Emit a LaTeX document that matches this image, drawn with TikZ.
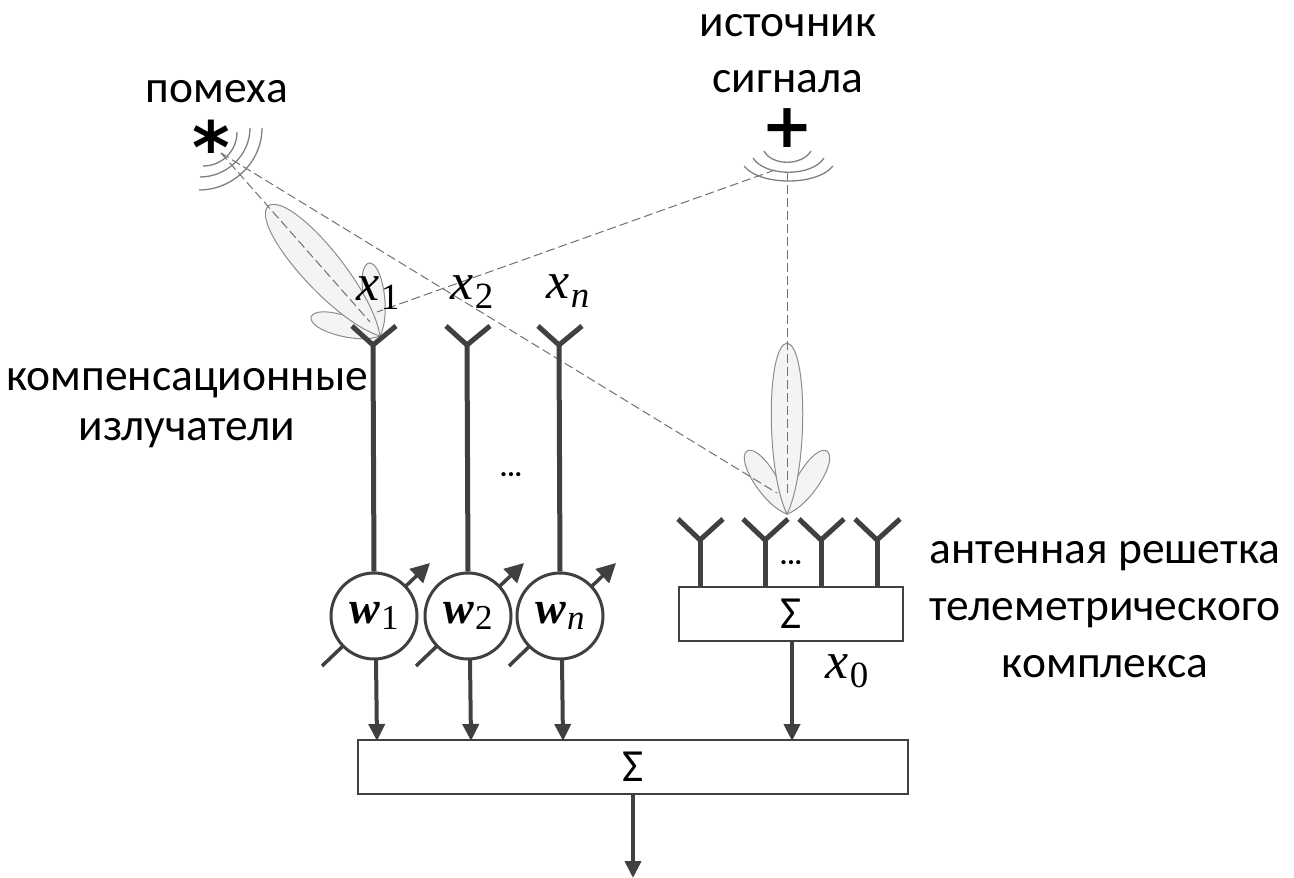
\documentclass[tikz,border=0pt]{standalone}
\usepackage{fontspec}
\setmainfont{Carlito}
\newfontfamily\lserif{Liberation Serif}
\newfontfamily\djv{DejaVu Sans}
\usetikzlibrary{arrows.meta,calc}
\definecolor{ln}{HTML}{404040}
\definecolor{lobeline}{HTML}{8C8C8C}
\definecolor{lobefill}{HTML}{F4F4F4}
\newcommand{\lobeshape}[3]{%
  \draw[lobe] (#1) .. controls ($(#1)!.25!(#2)!#3pt!90:(#2)$) and ($(#1)!.98!(#2)!#3pt!90:(#2)$) .. (#2)
    .. controls ($(#1)!.98!(#2)!#3pt!-90:(#2)$) and ($(#1)!.25!(#2)!#3pt!-90:(#2)$) .. (#1) -- cycle;}
\newcommand{\mx}[2]{{\lserif\fontsize{52}{52}\selectfont\itshape #1\kern1pt\raisebox{-9pt}{\fontsize{37}{37}\selectfont #2}}}
\newcommand{\wx}[2]{{\lserif\fontsize{46}{46}\selectfont\bfseries\itshape w\kern1pt\raisebox{-6pt}{\fontsize{35}{35}\selectfont\mdseries #2}}}
\tikzset{
  x=1pt,y=-1pt,
  lobe/.style={draw=lobeline,fill=lobefill,line width=1pt},
  ray/.style={draw=lobeline!80!black,line width=1pt,dash pattern=on 9pt off 4pt},
  wave/.style={draw=gray,line width=1.3pt},
  wire/.style={draw=ln,line width=5pt},
  thin wire/.style={draw=ln,line width=3.5pt},
  flow/.style={draw=ln,line width=4pt,-{Triangle[length=17pt,width=16pt]}},
  sumbox/.style={draw=ln,line width=2.6pt,fill=white,inner sep=0pt,font=\fontsize{46}{46}\selectfont},
  weight/.style={circle,draw=ln,line width=3pt,fill=white,minimum size=86pt,inner sep=0pt},
  label/.style={inner sep=0pt,font=\fontsize{45.5}{50}\selectfont,align=center},
  mlabel/.style={inner sep=0pt},
}
\begin{document}
\begin{tikzpicture}
\useasboundingbox (0,0) rectangle (1294,878);
% lobes
\coordinate (la) at (380,336);
\coordinate (lt1) at (268,206);
\coordinate (lt2) at (369,263);
\coordinate (lt3) at (311,317);
\lobeshape{la}{lt3}{14}
\lobeshape{la}{lt2}{14}
\lobeshape{la}{lt1}{27}
\coordinate (ra) at (787,514);
\coordinate (rt1) at (747,451);
\coordinate (rt2) at (827,451);
\coordinate (rt3) at (787,343);
\lobeshape{ra}{rt1}{15}
\lobeshape{ra}{rt2}{15}
\lobeshape{ra}{rt3}{21}
% sources
\node[inner sep=0pt,font=\djv\bfseries\fontsize{72}{72}\selectfont] (star) at (211,147) {*};
\node[inner sep=0pt,font=\djv\bfseries\fontsize{62}{62}\selectfont] (plus) at (787,128) {+};
\coordinate (se) at (221,153);
\coordinate (so) at (775,170);
\coordinate (sd) at (787,172);
\coordinate (t1) at (370,322);
\coordinate (t2) at (777,493);
\coordinate (t3) at (377,312);
\coordinate (t4) at (787,495);
\draw[ray] (se) -- (t1);
\draw[ray] (se) -- (t2);
\draw[ray] (so) -- (t3);
\draw[ray] (sd) -- (t4);
% waves
\draw[wave] (237,132) .. controls (237,151) and (222,166) .. (203,166);
\draw[wave] (250,128) .. controls (250,155) and (227,177) .. (200,177);
\draw[wave] (262,128) .. controls (262,162) and (233,190) .. (199,190);
\draw[wave] (764,151) .. controls (772,166) and (802,166) .. (811,151);
\draw[wave] (753,158) .. controls (765,177) and (812,177) .. (824,158);
\draw[wave] (744,166) .. controls (760,186) and (817,186) .. (833,166);
% weights: control arrows
\coordinate (a1s) at (322,666); \coordinate (a1e) at (430,563);
\coordinate (a2s) at (416,666); \coordinate (a2e) at (524,563);
\coordinate (a3s) at (509,666); \coordinate (a3e) at (616,563);
\foreach \p in {1,2,3}{\draw[thin wire,-{Triangle[length=19pt,width=19pt]}] (a\p s) -- (a\p e);}
% weights
\node[weight] (w1) at (374,616) {\wx{w}{\upshape 1}};
\node[weight] (w2) at (468,616) {\wx{w}{\upshape 2}};
\node[weight] (wn) at (560,616) {\wx{w}{n}};
% compensating antennas
\foreach \n/\c/\x in {j1/w1/373,j2/w2/467,j3/wn/559}{
  \coordinate (\n) at (\x,345);
  \coordinate (\n l) at (\x-21,326);
  \coordinate (\n r) at (\x+23,326);
  \draw[wire] (\n l) -- (\n) -- (\n r);
  \draw[wire] (\n) -- (\c.north);
}
% array
\node[sumbox,minimum width=224pt,minimum height=54pt] (arr) at (791,614) {Σ};
\foreach \n/\x in {a1/700,a2/765,a3/821,a4/877}{
  \coordinate (\n) at (\x,540);
  \coordinate (\n l) at (\x-22,519);
  \coordinate (\n r) at (\x+23,519);
  \coordinate (\n b) at (\x,587);
  \draw[wire] (\n l) -- (\n) -- (\n r);
  \draw[wire] (\n) -- (\n b);
}
\node[inner sep=0pt,font=\bfseries\fontsize{28}{28}\selectfont] (dots2) at (791,563) {...};
\node[inner sep=0pt,font=\bfseries\fontsize{28}{28}\selectfont] (dots1) at (511,475) {...};
% main sum
\node[sumbox,minimum width=550pt,minimum height=54pt] (sum) at (633,767) {Σ};
\coordinate (o1) at (376,660); \coordinate (i1) at (377,741);
\coordinate (o2) at (470,660); \coordinate (i2) at (471,741);
\coordinate (o3) at (562,660); \coordinate (i3) at (563,741);
\coordinate (o4) at (792,641); \coordinate (i4) at (792,741);
\coordinate (out) at (633,878);
\draw[flow] (o1) -- (i1);
\draw[flow] (o2) -- (i2);
\draw[flow] (o3) -- (i3);
\draw[flow] (o4) -- (i4);
\draw[flow] (sum.south) -- (out);
% labels
\node[mlabel] (x1) at (378,293) {\mx{x}{\upshape 1}};
\node[mlabel] (x2) at (472,292) {\mx{x}{\upshape 2}};
\node[mlabel] (xn) at (568,291) {\mx{x}{n}};
\node[mlabel] (x0) at (847,671) {\mx{x}{\upshape 0}};
\node[label] (l1) at (217,92) {помеха};
\node[label] (l2) at (788,54) {источник\\[6pt]сигнала};
\node[label] (l3) at (187,408) {компенсационные\\излучатели};
\node[label] (l4) at (1105,610) {антенная решетка\\[7pt]телеметрического\\[7pt]комплекса};
\end{tikzpicture}
\end{document}
